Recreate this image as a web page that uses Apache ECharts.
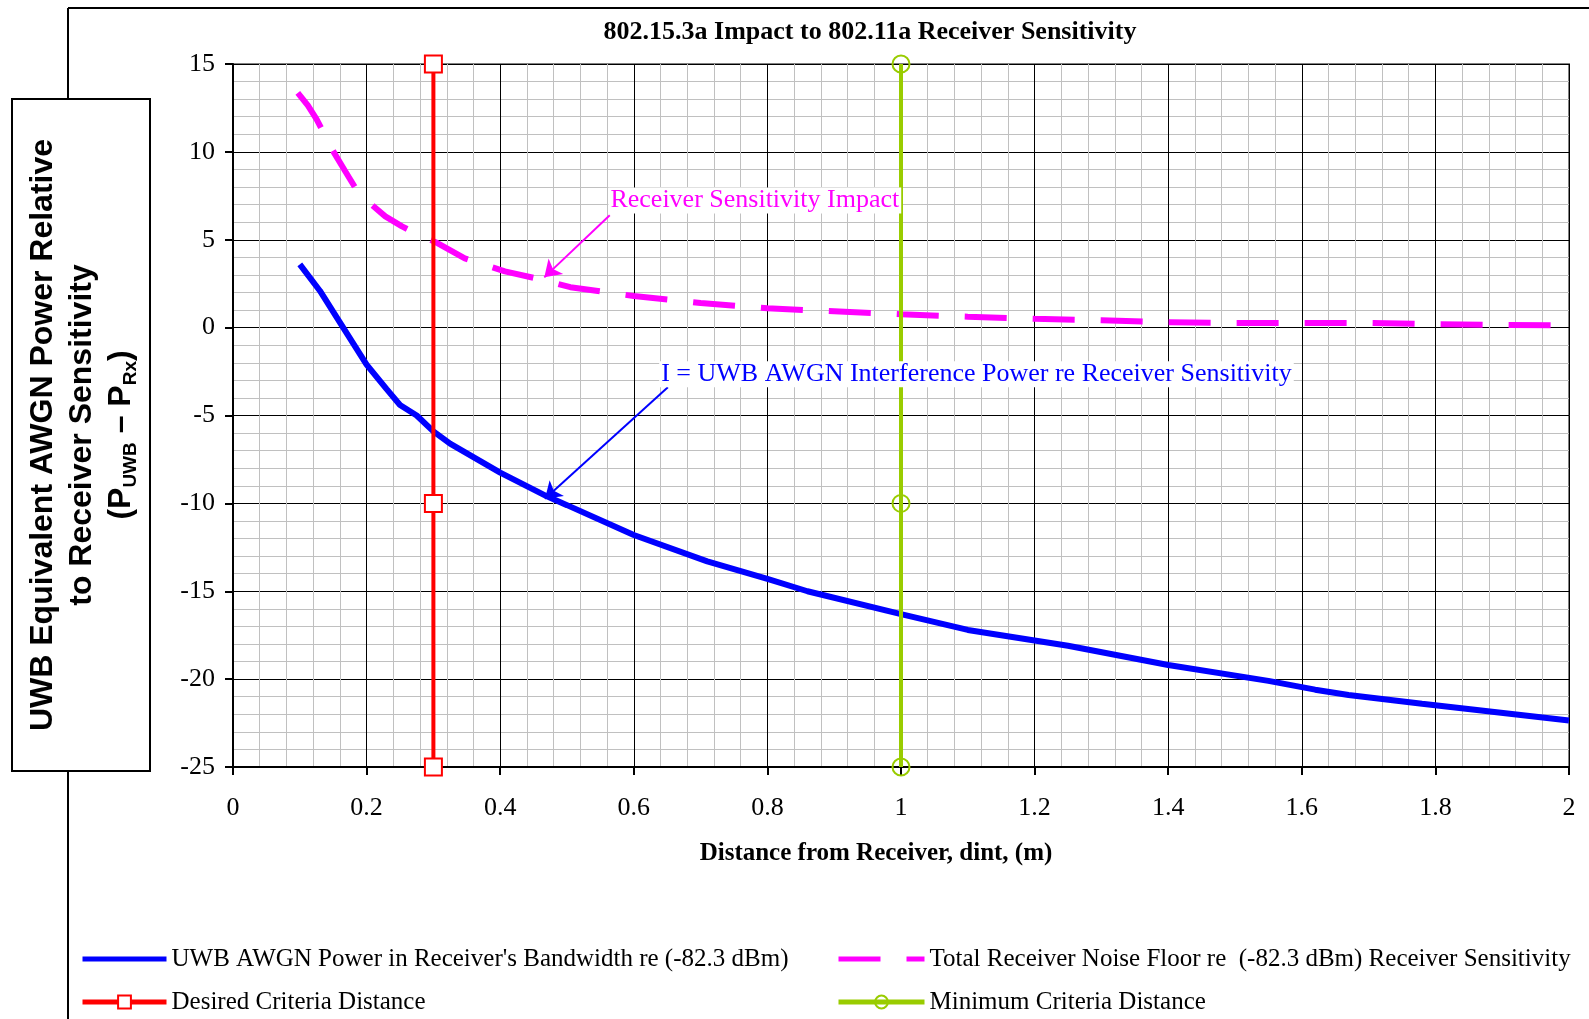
<!DOCTYPE html>
<html>
<head>
<meta charset="utf-8">
<style>
  html, body { margin: 0; padding: 0; background: #fff; }
  #main { width: 1589px; height: 1019px; }
</style>
<script src="https://cdn.jsdelivr.net/npm/echarts@6/dist/echarts.min.js"></script>
</head>
<body>
<div id="main"></div>
<script>
// UWB AWGN power re receiver sensitivity (blue)
var uwbX = [0.10, 0.13, 0.16, 0.20, 0.23, 0.25, 0.275, 0.30, 0.325, 0.40, 0.47, 0.50, 0.60, 0.71, 0.80, 0.86, 1.00, 1.10, 1.25, 1.40, 1.55, 1.62, 1.67, 1.78, 2.00]
var uwbY = [3.6, 2.1, 0.3, -2.1, -3.5, -4.4, -5.0, -5.9, -6.6, -8.25, -9.6, -10.1, -11.8, -13.3, -14.3, -15.0, -16.3, -17.2, -18.1, -19.2, -20.1, -20.6, -20.9, -21.4, -22.35]

// total receiver noise floor (magenta, dashed)
var noiseX = [0.097, 0.112, 0.125, 0.151, 0.168, 0.184, 0.2, 0.228, 0.253, 0.274, 0.304, 0.347, 0.407, 0.46, 0.505, 0.6, 0.7, 0.8, 0.9, 1.0, 1.1, 1.2, 1.3, 1.4, 1.5, 1.6, 1.7, 1.8, 1.9, 2.0]
var noiseY = [13.36, 12.64, 11.86, 9.97, 8.9, 7.9, 7.24, 6.33, 5.76, 5.36, 4.85, 3.94, 3.2, 2.75, 2.3, 1.8, 1.4, 1.1, 0.93, 0.76, 0.62, 0.5, 0.42, 0.3, 0.27, 0.27, 0.27, 0.2, 0.15, 0.13]

// criteria distances (vertical lines)
var desiredX = [0.3, 0.3, 0.3]
var desiredY = [-25, -10, 15]
var minimumX = [1, 1, 1]
var minimumY = [-25, -10, 15]

var seriesNames = [
  "UWB AWGN Power in Receiver's Bandwidth re (-82.3 dBm)",
  'Total Receiver Noise Floor re  (-82.3 dBm) Receiver Sensitivity',
  'Desired Criteria Distance',
  'Minimum Criteria Distance'
]

function pairs(xs, ys) {
  return xs.map(function(x, i) { return [x, ys[i]] })
}

var serif = 'Liberation Serif'

// one legend box per entry, so each sits where the original has it
function legendAt(item, left, top, width) {
  return {
    data: [item],
    orient: 'horizontal',
    left: left,
    top: top,
    padding: 0,
    itemWidth: width,
    itemHeight: 16,
    lineStyle: { width: 5 },
    textStyle: { fontFamily: serif, fontSize: 25, color: '#000', lineHeight: 30 }
  }
}

var chart = echarts.init(document.getElementById('main'))

chart.setOption({
  animation: false,
  grid: {
    left: 233,
    right: 20,
    top: 64,
    bottom: 252,
    show: true,
    borderColor: '#808080',
    borderWidth: 2
  },
  xAxis: {
    type: 'value',
    min: 0,
    max: 2,
    interval: 0.2,
    axisLine: { onZero: false, lineStyle: { color: '#000', width: 2 } },
    axisTick: { show: true, length: 8, lineStyle: { color: '#000', width: 2 } },
    axisLabel: { fontFamily: serif, fontSize: 26, color: '#000', margin: 28 },
    splitLine: { lineStyle: { color: '#000', width: 1 } },
    minorTick: { show: false, splitNumber: 5 },
    minorSplitLine: { show: true, lineStyle: { color: '#c0c0c0', width: 1 } }
  },
  yAxis: {
    type: 'value',
    min: -25,
    max: 15,
    interval: 5,
    axisLine: { onZero: false, lineStyle: { color: '#000', width: 2 } },
    axisTick: { show: true, length: 8, lineStyle: { color: '#000', width: 2 } },
    axisLabel: { fontFamily: serif, fontSize: 26, color: '#000', margin: 18 },
    splitLine: { lineStyle: { color: '#000', width: 1 } },
    minorTick: { show: false, splitNumber: 5 },
    minorSplitLine: { show: true, lineStyle: { color: '#c0c0c0', width: 1 } }
  },
  legend: [
    legendAt({ name: seriesNames[0], itemStyle: { opacity: 0 } }, 80, 944, 84),
    legendAt({ name: seriesNames[1], itemStyle: { opacity: 0 } }, 836, 944, 86),
    legendAt(seriesNames[2], 80, 987, 84),
    legendAt(seriesNames[3], 836, 987, 86)
  ],
  series: [
    {
      name: seriesNames[0],
      type: 'line',
      data: pairs(uwbX, uwbY),
      symbol: 'none',
      color: '#0000ff',
      lineStyle: { color: '#0000ff', width: 6 },
      markLine: {
        silent: true,
        symbol: ['none', 'arrow'],
        symbolSize: 16,
        label: { show: false },
        lineStyle: { color: '#0000ff', width: 2, type: 'solid' },
        data: [[{ coord: [0.651, -3.39] }, { coord: [0.467, -9.74] }]]
      },
      markPoint: {
        silent: true,
        symbol: 'circle',
        symbolSize: 0,
        data: [{
          coord: [0.638, -2.65],
          label: {
            show: true,
            position: 'right',
            distance: 0,
            formatter: 'I = UWB AWGN Interference Power re Receiver Sensitivity',
            fontFamily: serif,
            fontSize: 26,
            color: '#0000ff',
            backgroundColor: '#fff',
            padding: [0, 2]
          }
        }]
      }
    },
    {
      name: seriesNames[1],
      type: 'line',
      data: pairs(noiseX, noiseY),
      symbol: 'none',
      color: '#ff00ff',
      lineStyle: { color: '#ff00ff', width: 6, type: [42, 26] },
      markLine: {
        silent: true,
        symbol: ['none', 'arrow'],
        symbolSize: 16,
        label: { show: false },
        lineStyle: { color: '#ff00ff', width: 2, type: 'solid' },
        data: [[{ coord: [0.564, 6.39] }, { coord: [0.466, 2.86] }]]
      },
      markPoint: {
        silent: true,
        symbol: 'circle',
        symbolSize: 0,
        data: [{
          coord: [0.562, 7.24],
          label: {
            show: true,
            position: 'right',
            distance: 0,
            formatter: 'Receiver Sensitivity Impact',
            fontFamily: serif,
            fontSize: 26,
            color: '#ff00ff',
            backgroundColor: '#fff',
            padding: [0, 2]
          }
        }]
      }
    },
    {
      name: seriesNames[2],
      type: 'line',
      data: pairs(desiredX, desiredY),
      clip: false,
      symbol: 'rect',
      symbolSize: 17,
      showAllSymbol: true,
      color: '#ff0000',
      itemStyle: { color: '#fff', borderColor: '#ff0000', borderWidth: 2 },
      lineStyle: { color: '#ff0000', width: 4 }
    },
    {
      name: seriesNames[3],
      type: 'line',
      data: pairs(minimumX, minimumY),
      clip: false,
      symbol: 'circle',
      symbolSize: 17,
      showAllSymbol: true,
      color: '#99cc00',
      itemStyle: { color: 'rgba(255,255,255,0)', borderColor: '#99cc00', borderWidth: 2 },
      lineStyle: { color: '#99cc00', width: 4 }
    }
  ],
  graphic: [
    // outer chart frame (top and left edges)
    { type: 'line', silent: true, shape: { x1: 68, y1: 8, x2: 1589, y2: 8 }, style: { stroke: '#000', lineWidth: 2 } },
    { type: 'line', silent: true, shape: { x1: 68, y1: 8, x2: 68, y2: 1019 }, style: { stroke: '#000', lineWidth: 2 } },
    // y axis title box
    { type: 'rect', silent: true, shape: { x: 12, y: 99, width: 138, height: 672 }, style: { fill: '#fff', stroke: '#000', lineWidth: 2 } },
    {
      type: 'text',
      silent: true,
      x: 82,
      y: 435,
      rotation: Math.PI / 2,
      style: {
        text: '{b|UWB Equivalent AWGN Power Relative}\n{b|to Receiver Sensitivity}\n{b|(P}{s|UWB}{b| – P}{s|Rx}{b|)}',
        align: 'center',
        verticalAlign: 'middle',
        rich: {
          b: { fontFamily: 'Liberation Sans', fontWeight: 'bold', fontSize: 32, lineHeight: 39, fill: '#000' },
          s: { fontFamily: 'Liberation Sans', fontWeight: 'bold', fontSize: 19, lineHeight: 20, verticalAlign: 'bottom', fill: '#000' }
        }
      }
    },
    {
      type: 'text',
      silent: true,
      x: 870,
      y: 32,
      style: {
        text: '802.15.3a Impact to 802.11a Receiver Sensitivity',
        align: 'center',
        verticalAlign: 'middle',
        fontFamily: serif,
        fontWeight: 'bold',
        fontSize: 26,
        fill: '#000'
      }
    },
    {
      type: 'text',
      silent: true,
      x: 876,
      y: 854,
      style: {
        text: 'Distance from Receiver, dint, (m)',
        align: 'center',
        verticalAlign: 'middle',
        fontFamily: serif,
        fontWeight: 'bold',
        fontSize: 25,
        fill: '#000'
      }
    }
  ]
})
</script>
</body>
</html>
